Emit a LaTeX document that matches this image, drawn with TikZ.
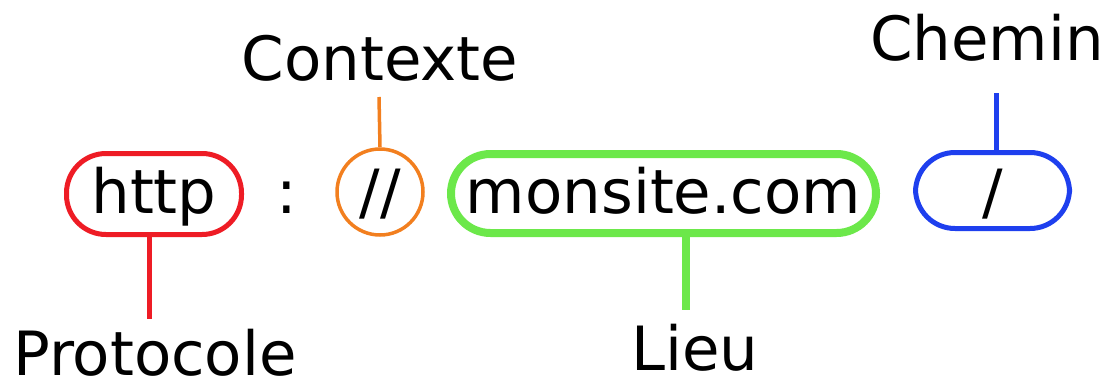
\documentclass[tikz,border=0pt]{standalone}
\usepackage{fontspec}
\setmainfont{DejaVu Sans}
\definecolor{cRed}{HTML}{EE1C25}
\definecolor{cOrange}{HTML}{F27F1F}
\definecolor{cGreen}{HTML}{6CE84A}
\definecolor{cBlue}{HTML}{1E3FEE}
\tikzset{
  part/.style={draw=#1, inner sep=0pt, font=\fontsize{61}{70}\selectfont},
  pill/.style={part=#1, rectangle, rounded corners=39.5pt},
  label/.style={inner sep=0pt, anchor=base, font=\fontsize{61}{70}\selectfont},
  tie/.style={draw=#1, line cap=butt},
}
\begin{document}
\begin{tikzpicture}[x=1pt, y=-1pt]
  \useasboundingbox (0,0) rectangle (1110,386);

  % URL parts
  \node[pill=cRed, line width=5pt, minimum width=175pt, minimum height=81pt,
        text height=46pt, text depth=8pt] (http) at (154,194) {http};
  \node[inner sep=0pt, anchor=base, font=\fontsize{61}{70}\selectfont] (colon) at (287,213) {:};
  \node[part=cOrange, circle, line width=3.5pt, minimum size=86pt,
        text height=48pt, text depth=6pt] (ctx) at (380,192) {//};
  \node[pill=cGreen, line width=8pt, minimum width=425pt, minimum height=79pt,
        text height=46pt, text depth=7pt] (host) at (663.5,193.5) {monsite.com};
  \node[pill=cBlue, line width=5pt, minimum width=154pt, minimum height=76pt,
        text height=50pt, text depth=5pt] (path) at (992.5,190.5) {/};

  % captions
  \node[label] (lctx)  at (380,80)  {Contexte};
  \node[label] (lpath) at (987,60)  {Chemin};
  \node[label] (lprot) at (155,375) {Protocole};
  \node[label] (lhost) at (695,370) {Lieu};

  % leader ends
  \coordinate (ectx)  at (379,97);
  \coordinate (epath) at (996,93);
  \coordinate (eprot) at (149,319);
  \coordinate (ehost) at (686,310);

  % leaders
  \draw[tie=cOrange, line width=3.5pt] (ectx) -- (ctx.north);
  \draw[tie=cBlue, line width=5pt] (epath) -- (epath |- path.north);
  \draw[tie=cRed, line width=5pt] (http.south -| eprot) -- (eprot);
  \draw[tie=cGreen, line width=8pt] (host.south -| ehost) -- (ehost);
\end{tikzpicture}
\end{document}
